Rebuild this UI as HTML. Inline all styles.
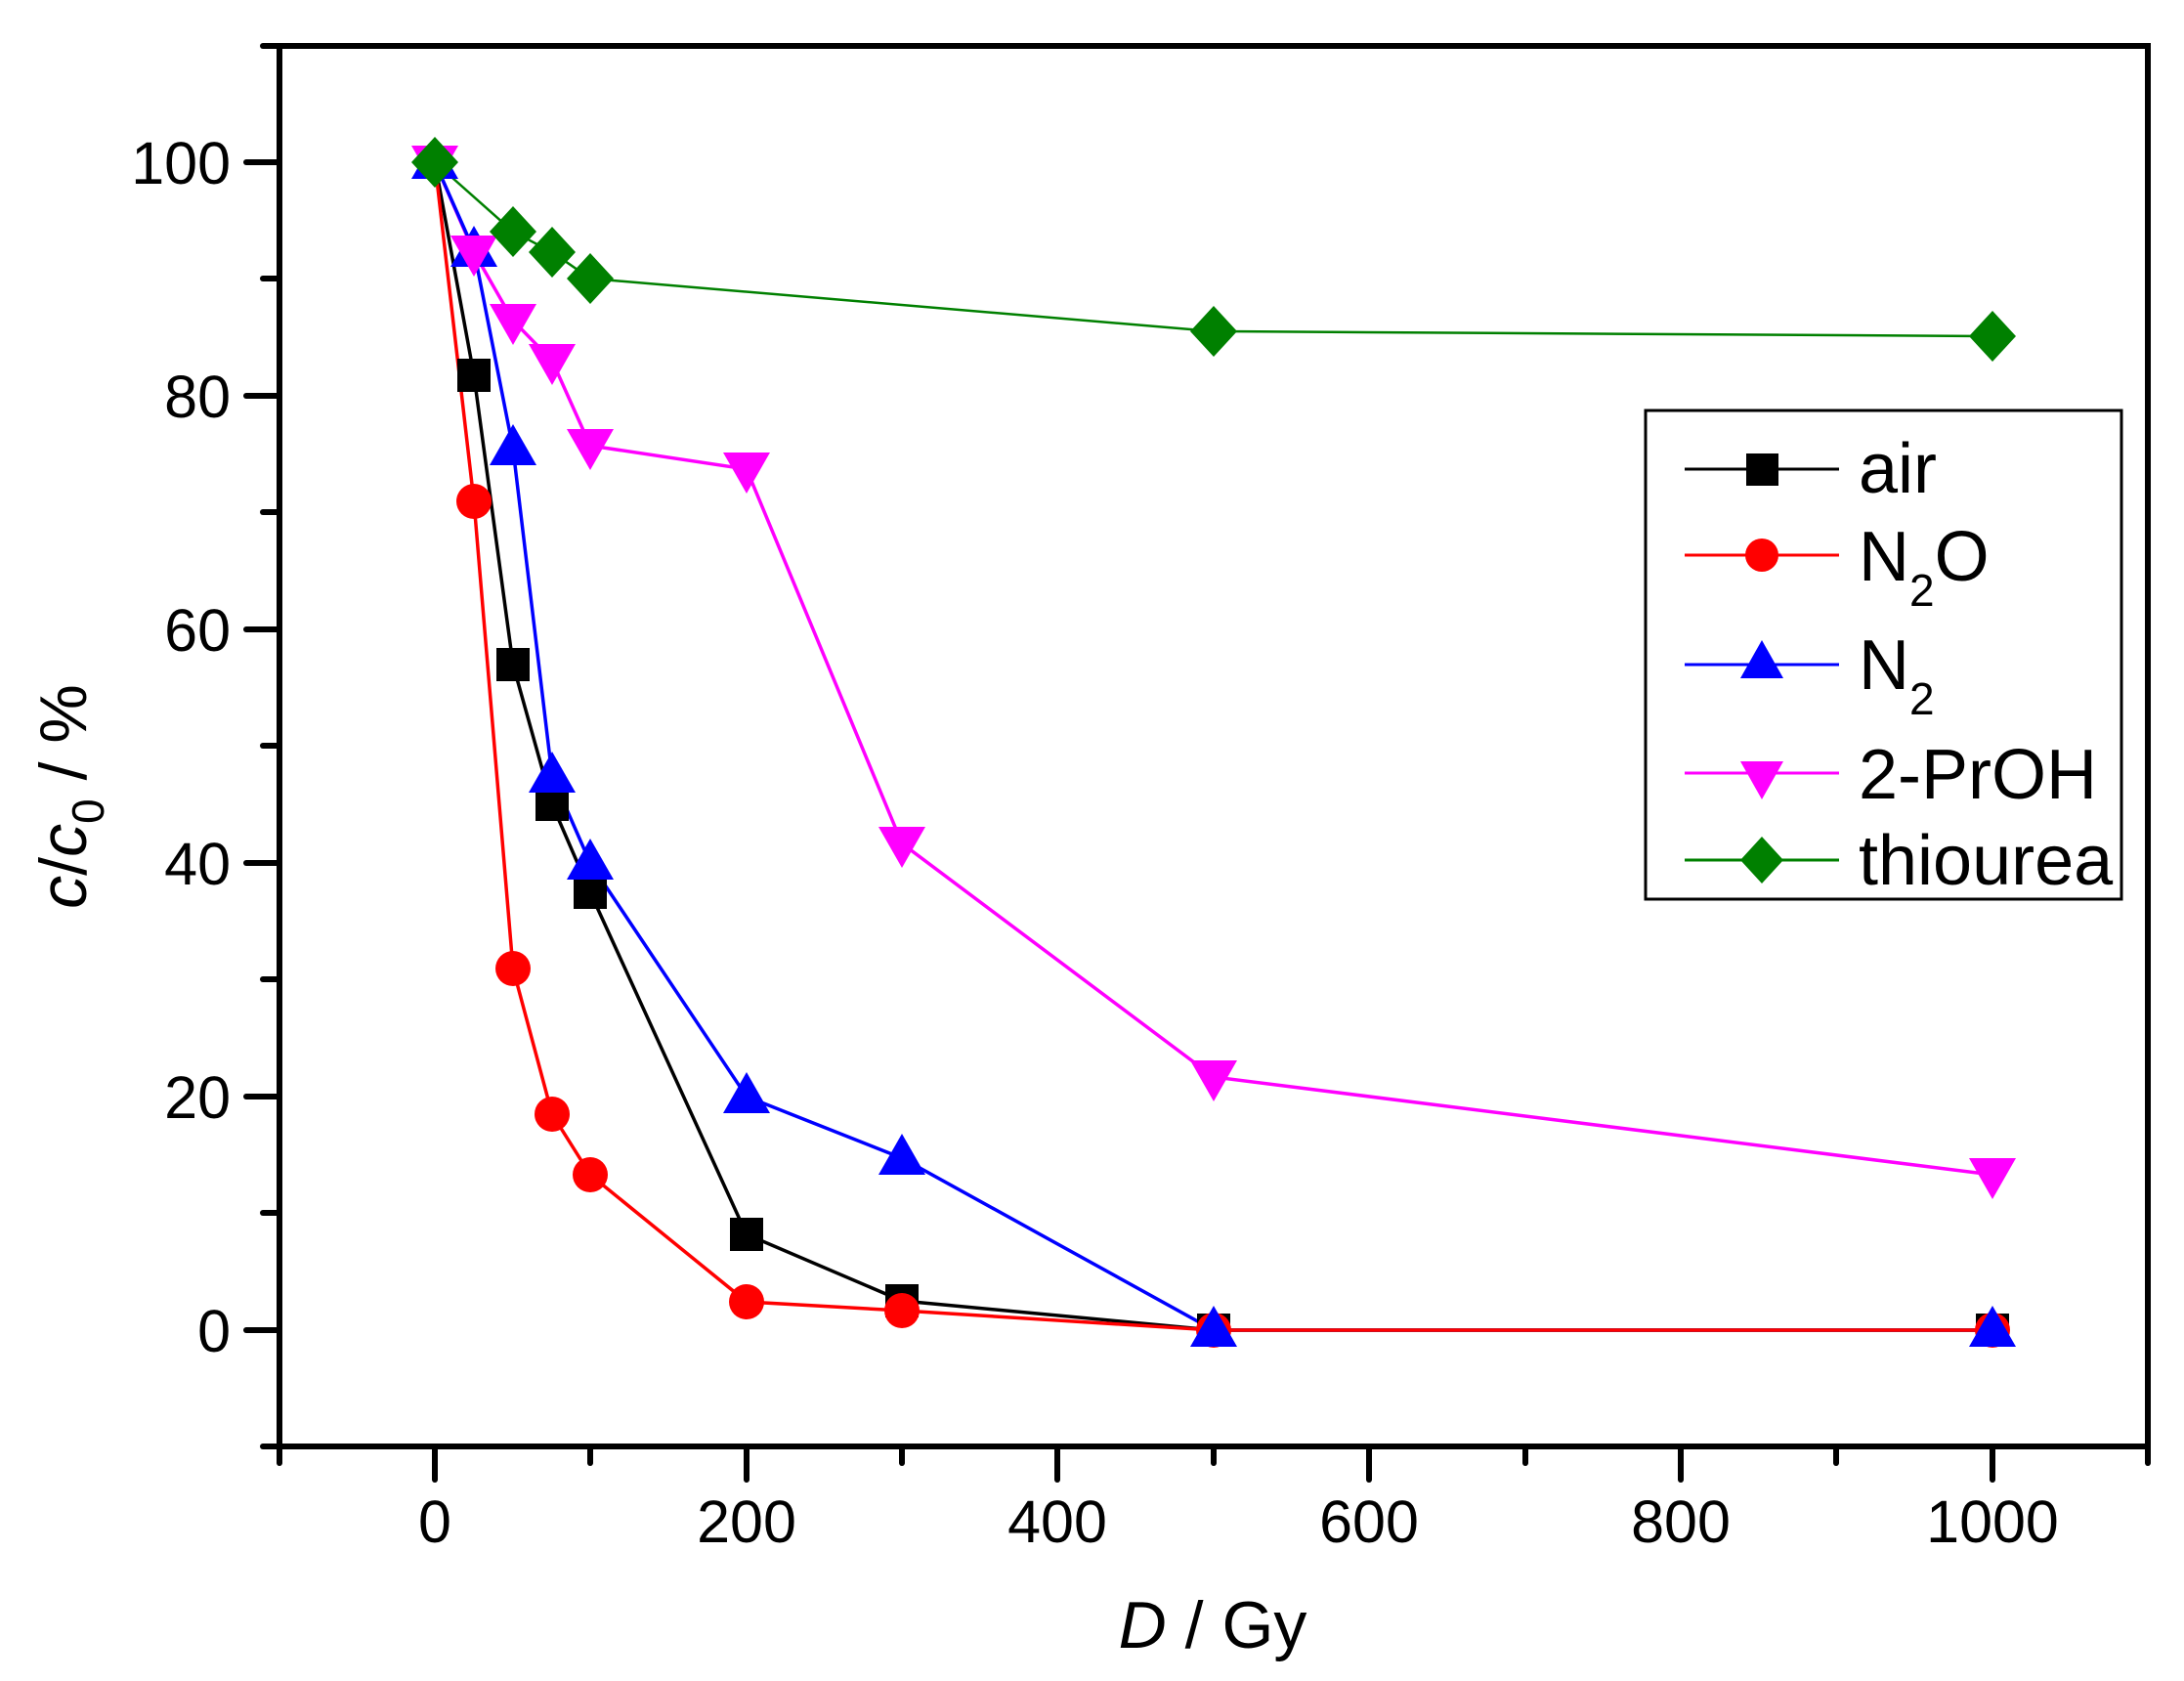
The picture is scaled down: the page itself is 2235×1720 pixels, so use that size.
<!DOCTYPE html>
<html><head><meta charset="utf-8"><style>html,body{margin:0;padding:0;background:#fff}svg{display:block}</style></head>
<body>
<svg width="2235" height="1720" viewBox="0 0 2235 1720" xmlns="http://www.w3.org/2000/svg" font-family="Liberation Sans, Arial, sans-serif">
<defs>
<clipPath id="c"><rect x="286" y="47" width="1912" height="1433"/></clipPath>
</defs>
<rect width="2235" height="1720" fill="#fff"/>
<g id="ticks" stroke="#000" stroke-width="6" stroke-linecap="round">
<line x1="445" y1="1480" x2="445" y2="1514"/>
<line x1="764" y1="1480" x2="764" y2="1514"/>
<line x1="1082" y1="1480" x2="1082" y2="1514"/>
<line x1="1401" y1="1480" x2="1401" y2="1514"/>
<line x1="1720" y1="1480" x2="1720" y2="1514"/>
<line x1="2039" y1="1480" x2="2039" y2="1514"/>
<line x1="286" y1="1480" x2="286" y2="1497"/>
<line x1="604" y1="1480" x2="604" y2="1497"/>
<line x1="923" y1="1480" x2="923" y2="1497"/>
<line x1="1242" y1="1480" x2="1242" y2="1497"/>
<line x1="1561" y1="1480" x2="1561" y2="1497"/>
<line x1="1879" y1="1480" x2="1879" y2="1497"/>
<line x1="2198" y1="1480" x2="2198" y2="1497"/>
<line x1="286" y1="1361" x2="252" y2="1361"/>
<line x1="286" y1="1122" x2="252" y2="1122"/>
<line x1="286" y1="883" x2="252" y2="883"/>
<line x1="286" y1="644" x2="252" y2="644"/>
<line x1="286" y1="405" x2="252" y2="405"/>
<line x1="286" y1="166" x2="252" y2="166"/>
<line x1="286" y1="1480" x2="269" y2="1480"/>
<line x1="286" y1="1241" x2="269" y2="1241"/>
<line x1="286" y1="1002" x2="269" y2="1002"/>
<line x1="286" y1="763" x2="269" y2="763"/>
<line x1="286" y1="524" x2="269" y2="524"/>
<line x1="286" y1="285" x2="269" y2="285"/>
<line x1="286" y1="47" x2="269" y2="47"/>
</g>
<rect x="286" y="47" width="1912" height="1433" fill="none" stroke="#000" stroke-width="6"/>
<g font-size="61" text-anchor="middle" fill="#000">
<text x="445" y="1578">0</text>
<text x="764" y="1578">200</text>
<text x="1082" y="1578">400</text>
<text x="1401" y="1578">600</text>
<text x="1720" y="1578">800</text>
<text x="2039" y="1578">1000</text>
</g>
<g font-size="61" text-anchor="end" fill="#000">
<text x="236" y="1383">0</text>
<text x="236" y="1144">20</text>
<text x="236" y="905">40</text>
<text x="236" y="666">60</text>
<text x="236" y="427">80</text>
<text x="236" y="188">100</text>
</g>
<text x="1241" y="1686" font-size="68" text-anchor="middle"><tspan font-style="italic">D</tspan> / Gy</text>
<text transform="translate(88,815) rotate(-90)" font-size="68" text-anchor="middle"><tspan font-style="italic">c</tspan>/<tspan font-style="italic">c</tspan><tspan font-size="46" dy="18">0</tspan><tspan dy="-18"> / %</tspan></text>

<g clip-path="url(#c)">
<polyline fill="none" stroke="#008000" stroke-width="2.5" points="445,166 525,237 565,258 604,285 1242,339 2039,344"/>
<polyline fill="none" stroke="#ff00ff" stroke-width="3.5" points="445,166 485,258 525,328 565,369 604,456 764,480 923,863 1242,1102 2039,1202"/>
<polyline fill="none" stroke="#0000ff" stroke-width="3.5" points="445,166 485,256 525,459 565,794 604,883 764,1122 923,1185 1242,1361 2039,1361"/>
<polyline fill="none" stroke="#000" stroke-width="3.5" points="445,166 485,384 525,680 565,823 604,913 764,1263 923,1331 1242,1361 2039,1361"/>
<polyline fill="none" stroke="#ff0000" stroke-width="3.5" points="445,166 485,513 525,991 565,1140 604,1202 764,1332 923,1341 1242,1361 2039,1361"/>
</g>

<g fill="#000">
<rect x="428" y="149" width="34" height="34"/>
<rect x="468" y="367" width="34" height="34"/>
<rect x="508" y="663" width="34" height="34"/>
<rect x="548" y="806" width="34" height="34"/>
<rect x="587" y="896" width="34" height="34"/>
<rect x="747" y="1246" width="34" height="34"/>
<rect x="906" y="1314" width="34" height="34"/>
<rect x="1225" y="1344" width="34" height="34"/>
<rect x="2022" y="1344" width="34" height="34"/>
</g>
<g fill="#ff0000">
<circle cx="445" cy="166" r="18"/>
<circle cx="485" cy="513" r="18"/>
<circle cx="525" cy="991" r="18"/>
<circle cx="565" cy="1140" r="18"/>
<circle cx="604" cy="1202" r="18"/>
<circle cx="764" cy="1332" r="18"/>
<circle cx="923" cy="1341" r="18"/>
<circle cx="1242" cy="1361" r="18"/>
<circle cx="2039" cy="1361" r="18"/>
</g>
<g fill="#0000ff">
<path d="M445,141 l24,42 h-48z"/>
<path d="M485,231 l24,42 h-48z"/>
<path d="M525,434 l24,42 h-48z"/>
<path d="M565,769 l24,42 h-48z"/>
<path d="M604,858 l24,42 h-48z"/>
<path d="M764,1097 l24,42 h-48z"/>
<path d="M923,1160 l24,42 h-48z"/>
<path d="M1242,1336 l24,42 h-48z"/>
<path d="M2039,1336 l24,42 h-48z"/>
</g>
<g fill="#ff00ff">
<path d="M445,191 l24,-42 h-48z"/>
<path d="M485,283 l24,-42 h-48z"/>
<path d="M525,353 l24,-42 h-48z"/>
<path d="M565,394 l24,-42 h-48z"/>
<path d="M604,481 l24,-42 h-48z"/>
<path d="M764,505 l24,-42 h-48z"/>
<path d="M923,888 l24,-42 h-48z"/>
<path d="M1242,1127 l24,-42 h-48z"/>
<path d="M2039,1227 l24,-42 h-48z"/>
</g>
<g fill="#008000">
<path d="M445,140 l24,26 l-24,26 l-24,-26z"/>
<path d="M525,211 l24,26 l-24,26 l-24,-26z"/>
<path d="M565,232 l24,26 l-24,26 l-24,-26z"/>
<path d="M604,259 l24,26 l-24,26 l-24,-26z"/>
<path d="M1242,313 l24,26 l-24,26 l-24,-26z"/>
<path d="M2039,318 l24,26 l-24,26 l-24,-26z"/>
</g>

<rect x="1684" y="420" width="487" height="500" fill="#fff" stroke="#000" stroke-width="3"/>
<line x1="1724" y1="480" x2="1882" y2="480" stroke="#000" stroke-width="3"/>
<rect x="1787" y="464" width="33" height="33" fill="#000"/>
<line x1="1724" y1="568" x2="1882" y2="568" stroke="#ff0000" stroke-width="3"/>
<circle cx="1803" cy="568" r="17" fill="#ff0000"/>
<line x1="1724" y1="680" x2="1882" y2="680" stroke="#0000ff" stroke-width="3"/>
<path d="M1803,655 l22,39 h-44z" fill="#0000ff"/>
<line x1="1724" y1="791" x2="1882" y2="791" stroke="#ff00ff" stroke-width="3"/>
<path d="M1803,818 l22,-39 h-44z" fill="#ff00ff"/>
<line x1="1724" y1="880" x2="1882" y2="880" stroke="#008000" stroke-width="3"/>
<path d="M1803,856 l22,24 l-22,24 l-22,-24z" fill="#008000"/>
<g font-size="72" fill="#000">
<text x="1902" y="504">air</text>
<text x="1902" y="594">N<tspan font-size="46" dy="26">2</tspan><tspan dy="-26">O</tspan></text>
<text x="1902" y="705">N<tspan font-size="46" dy="26">2</tspan></text>
<text x="1902" y="817">2-PrOH</text>
<text x="1902" y="905">thiourea</text>
</g>
</svg>
</body></html>
